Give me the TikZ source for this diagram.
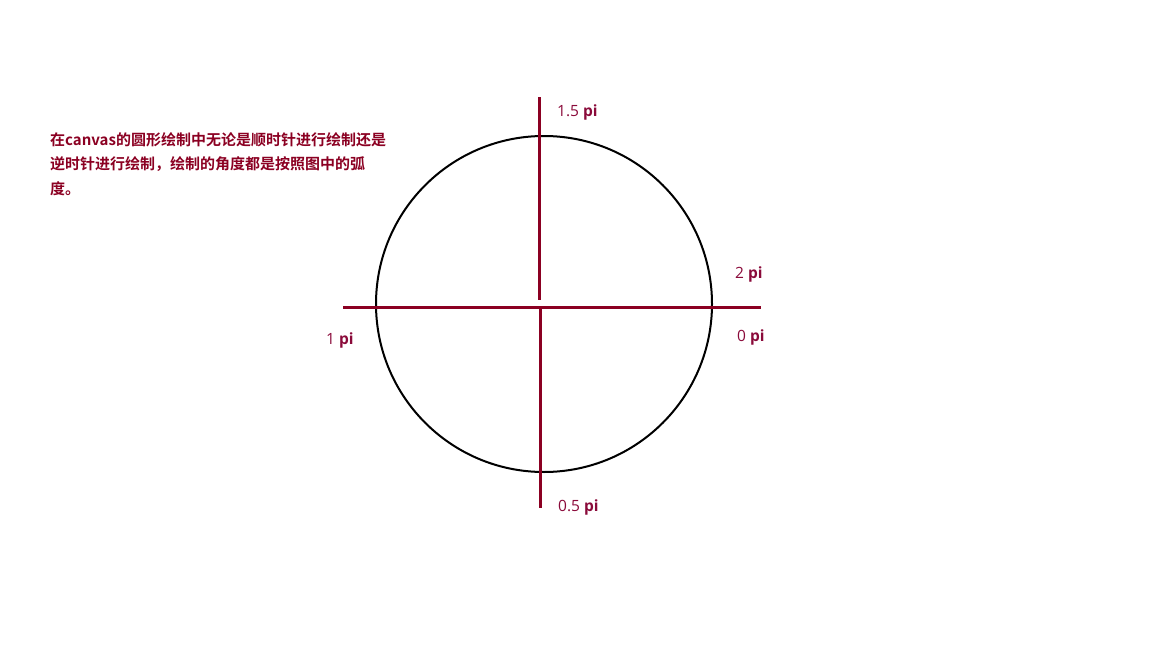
\documentclass[tikz,border=0pt]{standalone}
\usepackage{fontspec}
\setmainfont{Open Sans}
\newfontfamily\cjk{Noto Sans CJK SC}[BoldFont={Noto Sans CJK SC Bold}]
\definecolor{axisred}{HTML}{8B0022}
\definecolor{labred}{HTML}{8A0A3A}
\begin{document}
\begin{tikzpicture}[x=1pt,y=-1pt,
  axis/.style={draw=axisred,line width=3pt},
  ring/.style={draw=black,line width=2pt},
  lab/.style={text=labred,font=\fontsize{15.5}{18}\selectfont,inner sep=0pt,anchor=west},
  note/.style={text=axisred,font=\cjk\bfseries\fontsize{15}{18}\selectfont,inner sep=0pt,anchor=west}]
\useasboundingbox (0,0) rectangle (1152,648);
\coordinate (c) at (544,304);
\draw[ring] (c) circle (168);
\coordinate (hl) at (343,307);
\coordinate (hr) at (761,307);
\coordinate (vt) at (539,97);
\coordinate (vm) at (539,300);
\coordinate (vm2) at (540,307);
\coordinate (vb) at (540,508);
\draw[axis] (hl) -- (hr);
\draw[axis] (vt) -- (vm);
\draw[axis] (vm2) -- (vb);
\node[lab] (l15) at (557,112) {1.5 \textbf{pi}};
\node[lab] (l2) at (735,274) {2 \textbf{pi}};
\node[lab] (l0) at (737,337) {0 \textbf{pi}};
\node[lab] (l1) at (326,340) {1 \textbf{pi}};
\node[lab] (l05) at (558,507) {0.5 \textbf{pi}};
\node[note] (t1) at (50,140) {在canvas的圆形绘制中无论是顺时针进行绘制还是};
\node[note] (t2) at (50,164) {逆时针进行绘制，绘制的角度都是按照图中的弧};
\node[note] (t3) at (50,189) {度。};
\end{tikzpicture}
\end{document}
